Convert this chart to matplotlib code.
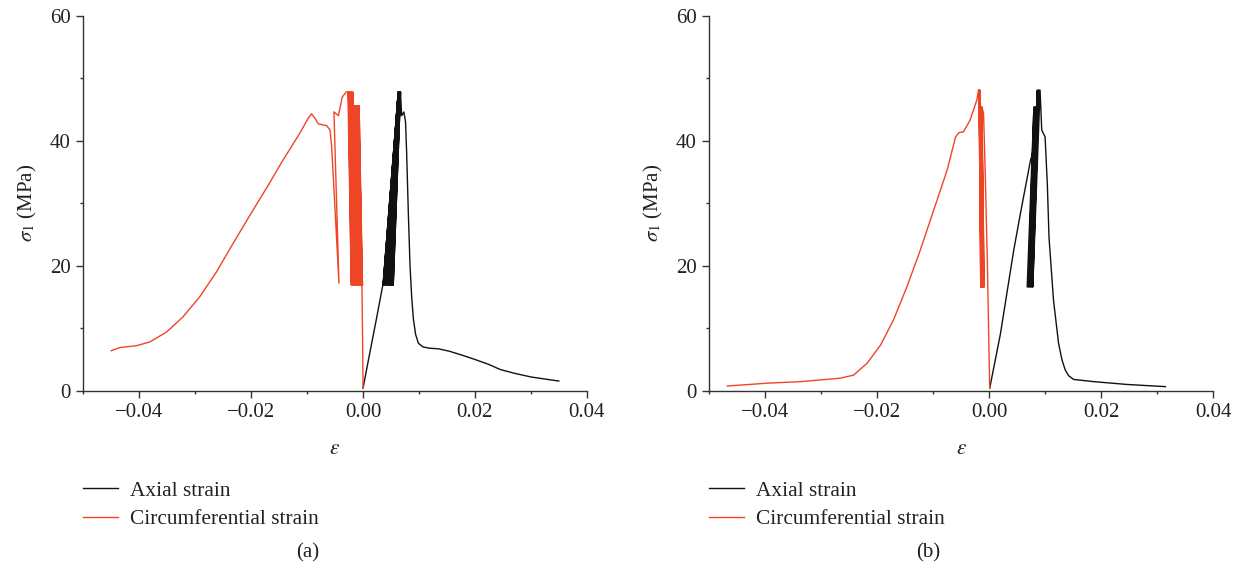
import matplotlib
matplotlib.use('Agg')
import matplotlib.pyplot as plt
from matplotlib.ticker import MultipleLocator

plt.rcParams['font.family'] = ['Liberation Serif', 'DejaVu Serif']
plt.rcParams['mathtext.fontset'] = 'stix'

RED = '#ee4526'
BLACK = '#111111'

# ---- panel (a) ----
# axial strain: initial loading, cycles, post-peak
a_ax_load_x = [0.0, 0.0012, 0.0024, 0.0036, 0.0050, 0.0063]
a_ax_load_y = [0.4, 6.0, 11.5, 17.2, 33.0, 47.8]
a_ax_cyc_bot = [0.0036, 0.0038, 0.0040, 0.0042, 0.0044, 0.0046, 0.0048, 0.0050, 0.0052, 0.0054]
a_ax_cyc_top = [0.0063, 0.0063, 0.0064, 0.0064, 0.0065, 0.0065, 0.0066, 0.0066, 0.0067, 0.0067]
a_ax_cyc_ybot = 16.9
a_ax_cyc_ytop = 47.8
a_ax_post_x = [0.0069, 0.0073, 0.0076, 0.0078, 0.0081, 0.0084, 0.0087, 0.0090, 0.0094,
               0.0099, 0.0107, 0.0119, 0.0135, 0.0155, 0.0180, 0.0200, 0.0225, 0.0245,
               0.0270, 0.0300, 0.0330, 0.0350]
a_ax_post_y = [44.0, 44.6, 43.0, 38.0, 28.4, 20.0, 15.0, 11.5, 9.0, 7.6, 7.0, 6.8, 6.7,
               6.3, 5.6, 5.0, 4.2, 3.4, 2.8, 2.2, 1.8, 1.55]

# circumferential strain
a_ci_load_x = [0.0, -0.0001, -0.0002, -0.0005, -0.0007]
a_ci_load_y = [0.4, 10.0, 17.0, 35.0, 45.6]
a_ci_cyc_bot = [-0.0001, -0.0003, -0.0004, -0.0006, -0.0007, -0.0009, -0.0010,
                -0.0012, -0.0013, -0.0015, -0.0016, -0.0018, -0.0019, -0.0021]
a_ci_cyc_top = [-0.0008, -0.0009, -0.0010, -0.0012, -0.0013, -0.0015, -0.0017,
                -0.0018, -0.0020, -0.0021, -0.0023, -0.0024, -0.0026, -0.0027]
a_ci_cyc_ytop = [45.6, 45.6, 45.6, 45.6, 45.6, 45.6, 45.6,
                 47.8, 47.8, 47.8, 47.8, 47.8, 47.8, 47.8]
a_ci_cyc_ybot = 16.9
a_ci_post_x = [-0.0030, -0.0037, -0.0044, -0.0052, -0.0043, -0.0056, -0.0059, -0.0065,
               -0.0080, -0.0086, -0.0092, -0.0098, -0.0113, -0.0143, -0.0172, -0.0202,
               -0.0232, -0.0262, -0.0292, -0.0322, -0.0351, -0.0381, -0.0405, -0.0435,
               -0.0450]
a_ci_post_y = [47.8, 47.0, 44.0, 44.6, 17.2, 39.0, 41.7, 42.4, 42.7, 43.6, 44.3, 43.6,
               41.2, 36.9, 32.5, 28.1, 23.6, 19.0, 15.0, 11.8, 9.4, 7.8, 7.2, 6.9, 6.4]

# ---- panel (b) ----
b_ax_load_x = [0.0001, 0.0020, 0.0044, 0.0056, 0.0074, 0.0083, 0.0086]
b_ax_load_y = [0.4, 9.0, 22.5, 28.4, 36.9, 39.6, 45.4]
b_ax_cyc_bot = [0.0068, 0.0070, 0.0071, 0.0073, 0.0074, 0.0076, 0.0077, 0.0078]
b_ax_cyc_top = [0.0080, 0.0082, 0.0083, 0.0085, 0.0086, 0.0088, 0.0089, 0.0091]
b_ax_cyc_ytop = [45.4, 45.4, 45.4, 45.4, 48.1, 48.1, 48.1, 48.1]
b_ax_cyc_ybot = 16.6
b_ax_post_x = [0.0094, 0.0100, 0.0104, 0.0107, 0.0115, 0.0124, 0.0130, 0.0136, 0.0142,
               0.0151, 0.0187, 0.0246, 0.0315]
b_ax_post_y = [41.7, 40.6, 33.0, 24.5, 14.5, 7.6, 5.0, 3.3, 2.4, 1.8, 1.45, 1.0, 0.65]

b_ci_load_x = [0.0001, -0.0003, -0.0007, -0.0010, -0.0013]
b_ci_load_y = [0.4, 19.8, 35.0, 44.4, 45.4]
b_ci_cyc_bot = [-0.0009, -0.0010, -0.0011, -0.0012, -0.0013, -0.0014, -0.0015]
b_ci_cyc_top = [-0.0013, -0.0014, -0.0015, -0.0016, -0.0017, -0.0018, -0.0018]
b_ci_cyc_ytop = [45.4, 45.4, 45.4, 48.1, 48.1, 48.1, 48.1]
b_ci_cyc_ybot = 16.6
b_ci_post_x = [-0.0019, -0.0022, -0.0034, -0.0046, -0.0054, -0.0060, -0.0075, -0.0099,
               -0.0123, -0.0147, -0.0171, -0.0194, -0.0218, -0.0242, -0.0266, -0.0337,
               -0.0397, -0.0468]
b_ci_post_y = [48.1, 46.5, 43.3, 41.4, 41.3, 40.6, 35.3, 28.9, 22.5, 16.6, 11.3, 7.3, 4.4,
               2.5, 2.0, 1.45, 1.2, 0.75]


def build(load_x, load_y, bot, top, ybot, ytop, post_x, post_y):
    # chain loading, unload/reload cycles and post-peak branch into one path
    xs = list(load_x)
    ys = list(load_y)
    if not isinstance(ytop, list):
        ytop = [ytop] * len(top)
    for xb, xt, yt in zip(bot, top, ytop):
        xs += [xb, xt]
        ys += [ybot, yt]
    xs += post_x
    ys += post_y
    return xs, ys


fig = plt.figure(figsize=(12.41, 5.71), dpi=100)
ax1 = fig.add_axes([83.3 / 1241, 1 - 390.7 / 571, 503.5 / 1241, 375 / 571])
ax2 = fig.add_axes([709.3 / 1241, 1 - 390.7 / 571, 503.7 / 1241, 375 / 571])

panels = [
    (ax1, build(a_ax_load_x, a_ax_load_y, a_ax_cyc_bot, a_ax_cyc_top, a_ax_cyc_ybot,
                a_ax_cyc_ytop, a_ax_post_x, a_ax_post_y),
     build(a_ci_load_x, a_ci_load_y, a_ci_cyc_bot, a_ci_cyc_top, a_ci_cyc_ybot,
           a_ci_cyc_ytop, a_ci_post_x, a_ci_post_y), '(a)', 308),
    (ax2, build(b_ax_load_x, b_ax_load_y, b_ax_cyc_bot, b_ax_cyc_top, b_ax_cyc_ybot,
                b_ax_cyc_ytop, b_ax_post_x, b_ax_post_y),
     build(b_ci_load_x, b_ci_load_y, b_ci_cyc_bot, b_ci_cyc_top, b_ci_cyc_ybot,
           b_ci_cyc_ytop, b_ci_post_x, b_ci_post_y), '(b)', 928),
]

for ax, axial, circ, tag, xc in panels:
    ax.plot(axial[0], axial[1], color=BLACK, lw=1.0, label='Axial strain')
    ax.plot(circ[0], circ[1], color=RED, lw=1.0, label='Circumferential strain')
    ax.set_xlim(-0.05, 0.04)
    ax.set_ylim(0, 60)
    ax.xaxis.set_major_locator(MultipleLocator(0.02))
    ax.xaxis.set_minor_locator(MultipleLocator(0.01))
    ax.yaxis.set_major_locator(MultipleLocator(20))
    ax.yaxis.set_minor_locator(MultipleLocator(10))
    ax.set_xticks([-0.04, -0.02, 0.0, 0.02, 0.04])
    ax.set_xticklabels(['\u22120.04', '\u22120.02', '0.00', '0.02', '0.04'])
    for s in ['top', 'right']:
        ax.spines[s].set_visible(False)
    for s in ['left', 'bottom']:
        ax.spines[s].set_color('#333333')
        ax.spines[s].set_linewidth(1.0)
    ax.tick_params(which='major', length=5, width=1, color='#333333', labelsize=15,
                   labelcolor='#222222', pad=4)
    ax.tick_params(which='minor', length=2.5, width=1, color='#333333')
    ax.set_xlabel(r'$\varepsilon$', fontsize=15.5, labelpad=13, color='#222222')
    ax.set_ylabel(r'$\sigma_1$ (MPa)', fontsize=15, labelpad=8, color='#222222')
    x0 = ax.get_position().x0
    fig.legend(handles=ax.get_lines(), loc='upper left',
               bbox_to_anchor=(x0 - 0.0005, 1 - 481 / 571), frameon=False,
               fontsize=15.4, handlelength=1.65, handletextpad=0.55, labelspacing=0.4,
               borderpad=0, borderaxespad=0, labelcolor='#222222')
    fig.text(xc / 1241, 1 - 553 / 571, tag, ha='center', va='center', fontsize=15,
             color='#222222')

fig.savefig('out.png', dpi=100)
